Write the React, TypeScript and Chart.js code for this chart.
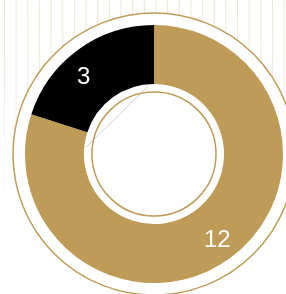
import React, { useEffect, useRef } from "react";
import { Chart, registerables } from "chart.js";

Chart.register(...registerables);

const categories = ["Gold", "Black"];
const values = [12, 3];
const colors = ["#BE9C58", "#000000"];
const labelTexts = ["12", "3"];

const decorPlugin = {
  id: "decor",
  beforeDatasetsDraw(chart: any) {
    const ctx = chart.ctx;
    const meta = chart.getDatasetMeta(0);
    const arc = meta.data[0];
    if (!arc) return;
    const { x, y, outerRadius } = arc.getProps(["x", "y", "outerRadius"], true);
    const W = chart.width;
    ctx.save();
    const grad = ctx.createLinearGradient(0, 0, 0, 210);
    grad.addColorStop(0, "rgba(238,229,212,1)");
    grad.addColorStop(0.5, "rgba(238,229,212,0.6)");
    grad.addColorStop(1, "rgba(238,229,212,0)");
    ctx.strokeStyle = grad;
    ctx.lineWidth = 1;
    for (let sx = 4.5; sx < W; sx += 11.65) {
      ctx.beginPath();
      ctx.moveTo(sx, 0);
      ctx.lineTo(sx, 210);
      ctx.stroke();
    }
    const ringR = outerRadius + 12;
    ctx.beginPath();
    ctx.arc(x, y, ringR, 0, Math.PI * 2);
    ctx.fillStyle = "#ffffff";
    ctx.fill();
    ctx.strokeStyle = colors[0];
    ctx.lineWidth = 1.5;
    ctx.stroke();
    ctx.restore();
  },
  afterDatasetsDraw(chart: any) {
    const ctx = chart.ctx;
    const meta = chart.getDatasetMeta(0);
    const arc0 = meta.data[0];
    if (!arc0) return;
    const { x, y, outerRadius, innerRadius } = arc0.getProps(["x", "y", "outerRadius", "innerRadius"], true);
    ctx.save();
    ctx.beginPath();
    ctx.arc(x, y, innerRadius - 8, 0, Math.PI * 2);
    ctx.strokeStyle = colors[0];
    ctx.lineWidth = 1.5;
    ctx.stroke();
    const a1 = (-95 * Math.PI) / 180;
    const a2 = (186 * Math.PI) / 180;
    const rr = innerRadius - 2;
    ctx.beginPath();
    ctx.moveTo(x + rr * Math.cos(a1), y + rr * Math.sin(a1));
    ctx.lineTo(x + rr * Math.cos(a2), y + rr * Math.sin(a2));
    ctx.strokeStyle = "rgba(150,150,150,0.8)";
    ctx.lineWidth = 0.6;
    ctx.stroke();
    ctx.fillStyle = "#ffffff";
    ctx.font = "24px 'Liberation Sans', Arial, sans-serif";
    ctx.textAlign = "center";
    ctx.textBaseline = "middle";
    meta.data.forEach((el: any, i: number) => {
      const p = el.getProps(["startAngle", "endAngle"], true);
      const mid = (p.startAngle + p.endAngle) / 2;
      const r = innerRadius + (outerRadius - innerRadius) * 0.58;
      const dx = i === 1 ? -9 : 2;
      const dy = i === 1 ? 8 : 2;
      ctx.fillText(labelTexts[i], x + r * Math.cos(mid) + dx, y + r * Math.sin(mid) + dy);
    });
    ctx.restore();
  },
};

export default function App() {
  const ref = useRef<HTMLCanvasElement>(null);
  useEffect(() => {
    document.body.style.margin = "0";
    const chart = new Chart(ref.current!, {
      type: "doughnut",
      data: {
        labels: categories,
        datasets: [
          {
            data: values,
            backgroundColor: colors,
            borderWidth: 0,
          },
        ],
      },
      options: {
        responsive: false,
        animation: false,
        cutout: "54.3%",
        layout: { padding: { left: 25, right: 3, top: 25, bottom: 11 } },
        plugins: { legend: { display: false }, tooltip: { enabled: false } },
      },
      plugins: [decorPlugin],
    });
    return () => chart.destroy();
  }, []);
  return (
    <div style={{ position: "fixed", left: 0, top: 0, width: 286, height: 294, background: "#fff" }}>
      <canvas ref={ref} width={286} height={294} />
    </div>
  );
}
